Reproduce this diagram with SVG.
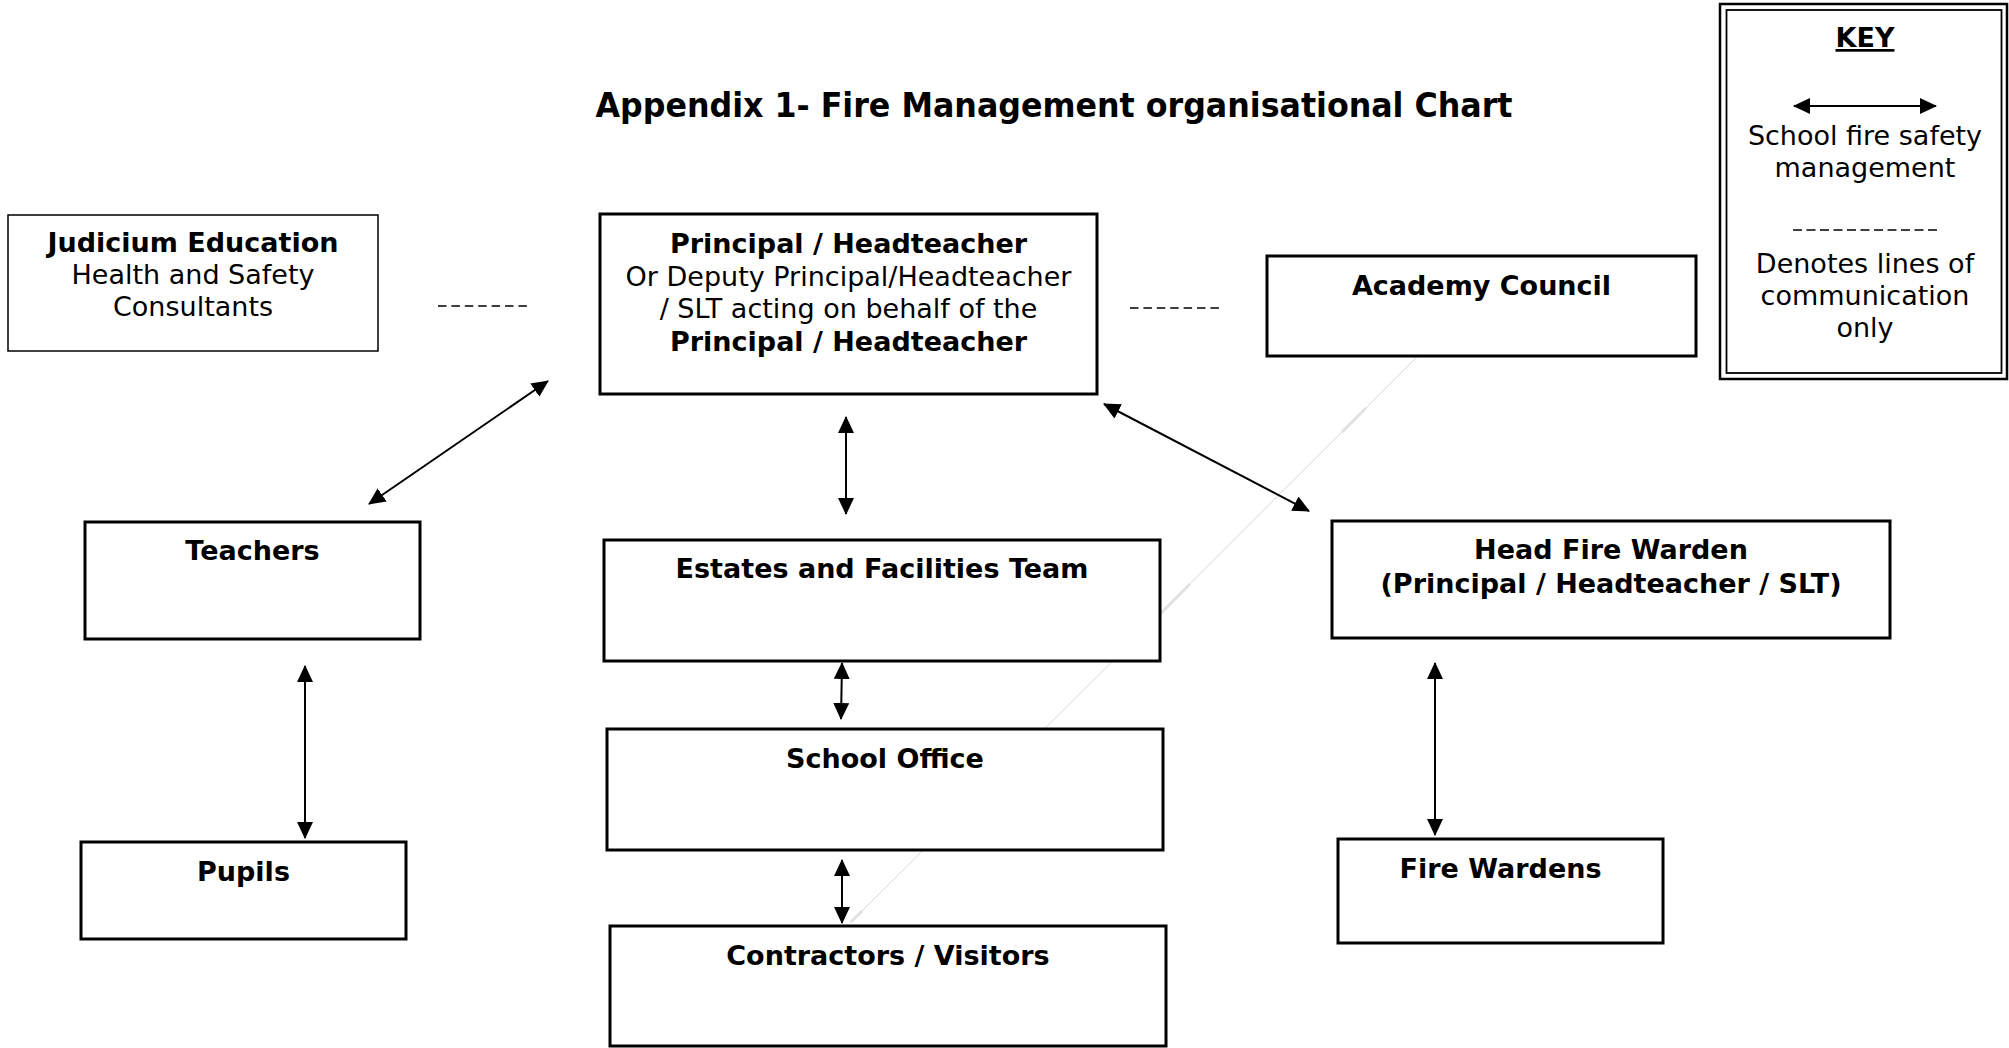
<svg xmlns="http://www.w3.org/2000/svg" width="2009" height="1048" viewBox="0 0 2009 1048">
  <defs>
    <style>
      text { font-family: "DejaVu Sans", Verdana, "Liberation Sans", sans-serif; font-size: 27px; fill: #000; text-anchor: middle; }
      .b { font-weight: bold; }
      .title { font-family: "DejaVu Sans Condensed", "DejaVu Sans", Tahoma, sans-serif; font-stretch: condensed; font-size: 34.5px; font-weight: bold; }
      .box { fill: #fff; stroke: #000; stroke-width: 3; }
      .box-thin { fill: #fff; stroke: #000; stroke-width: 1.5; }
      .arrow { stroke: #000; stroke-width: 2; fill: none; marker-start: url(#head); marker-end: url(#head); }
      .comm { stroke: #000; stroke-width: 1.5; stroke-dasharray: 8.5 4.9; fill: none; }
      .ghost { stroke: #d6d6d6; stroke-width: 1; fill: none; }
      .ghost-wide { stroke: #e2e2e2; stroke-width: 3; fill: none; }
    </style>
    <marker id="head" viewBox="0 0 17 16" refX="16" refY="8" markerWidth="17" markerHeight="16" markerUnits="userSpaceOnUse" orient="auto-start-reverse">
      <path d="M0,0 L17,8 L0,16 z" fill="#000"/>
    </marker>
  </defs>

  <rect width="2009" height="1048" fill="#fff"/>

  <!-- faint diagonal guide line behind the boxes -->
  <g id="guide">
    <line class="ghost" x1="1417" y1="357" x2="850" y2="923"/>
    <line class="ghost-wide" x1="1366" y1="408" x2="1342" y2="432"/>
    <line class="ghost-wide" x1="1190" y1="584" x2="1160" y2="614"/>
    <line class="ghost-wide" x1="862" y1="911" x2="851" y2="922"/>
  </g>

  <text class="title" x="1054" y="117" textLength="917" lengthAdjust="spacingAndGlyphs">Appendix 1- Fire Management organisational Chart</text>

  <!-- connectors -->
  <g id="connectors">
    <line class="comm" x1="438" y1="306" x2="527" y2="306"/>
    <line class="comm" x1="1130" y1="308" x2="1220" y2="308"/>
    <line class="arrow" x1="369" y1="504" x2="548" y2="381"/>
    <line class="arrow" x1="846" y1="417" x2="846" y2="514"/>
    <line class="arrow" x1="842" y1="663" x2="841" y2="719"/>
    <line class="arrow" x1="842" y1="860" x2="842" y2="923"/>
    <line class="arrow" x1="1104" y1="404" x2="1309" y2="511"/>
    <line class="arrow" x1="305" y1="666" x2="305" y2="838"/>
    <line class="arrow" x1="1435" y1="663" x2="1435" y2="835"/>
  </g>

  <!-- nodes -->
  <g id="judicium">
    <rect class="box-thin" x="8" y="215" width="370" height="136"/>
    <text class="b" x="193" y="252">Judicium Education</text>
    <text x="193" y="284">Health and Safety</text>
    <text x="193" y="316">Consultants</text>
  </g>

  <g id="principal">
    <rect class="box" x="600" y="214" width="497" height="180"/>
    <text class="b" x="848.5" y="253">Principal / Headteacher</text>
    <text x="848.5" y="285.5">Or Deputy Principal/Headteacher</text>
    <text x="848.5" y="318">/ SLT acting on behalf of the</text>
    <text class="b" x="848.5" y="350.5">Principal / Headteacher</text>
  </g>

  <g id="academy-council">
    <rect class="box" x="1267" y="256" width="429" height="100"/>
    <text class="b" x="1481.5" y="295">Academy Council</text>
  </g>

  <g id="teachers">
    <rect class="box" x="85" y="522" width="335" height="117"/>
    <text class="b" x="252.5" y="560">Teachers</text>
  </g>

  <g id="estates">
    <rect class="box" x="604" y="540" width="556" height="121"/>
    <text class="b" x="882" y="578">Estates and Facilities Team</text>
  </g>

  <g id="head-fire-warden">
    <rect class="box" x="1332" y="521" width="558" height="117"/>
    <text class="b" x="1611" y="559">Head Fire Warden</text>
    <text class="b" x="1611" y="593">(Principal / Headteacher / SLT)</text>
  </g>

  <g id="school-office">
    <rect class="box" x="607" y="729" width="556" height="121"/>
    <text class="b" x="885" y="768">School Office</text>
  </g>

  <g id="contractors">
    <rect class="box" x="610" y="926" width="556" height="120"/>
    <text class="b" x="888" y="965">Contractors / Visitors</text>
  </g>

  <g id="pupils">
    <rect class="box" x="81" y="842" width="325" height="97"/>
    <text class="b" x="243.5" y="881">Pupils</text>
  </g>

  <g id="fire-wardens">
    <rect class="box" x="1338" y="839" width="325" height="104"/>
    <text class="b" x="1500.5" y="878">Fire Wardens</text>
  </g>

  <!-- legend -->
  <g id="key">
    <rect x="1720" y="4" width="287" height="375" fill="#fff" stroke="#000" stroke-width="2.5"/>
    <rect x="1726.5" y="10" width="275" height="363" fill="none" stroke="#000" stroke-width="1.8"/>
    <text class="b" x="1865" y="47" text-decoration="underline">KEY</text>
    <line class="arrow" x1="1794" y1="106" x2="1936" y2="106"/>
    <text x="1865" y="145">School fire safety</text>
    <text x="1865" y="177">management</text>
    <line x1="1793" y1="230" x2="1937" y2="230" stroke="#000" stroke-width="1.5" stroke-dasharray="9 4.5"/>
    <text x="1865" y="273">Denotes lines of</text>
    <text x="1865" y="305">communication</text>
    <text x="1865" y="337">only</text>
  </g>
</svg>
